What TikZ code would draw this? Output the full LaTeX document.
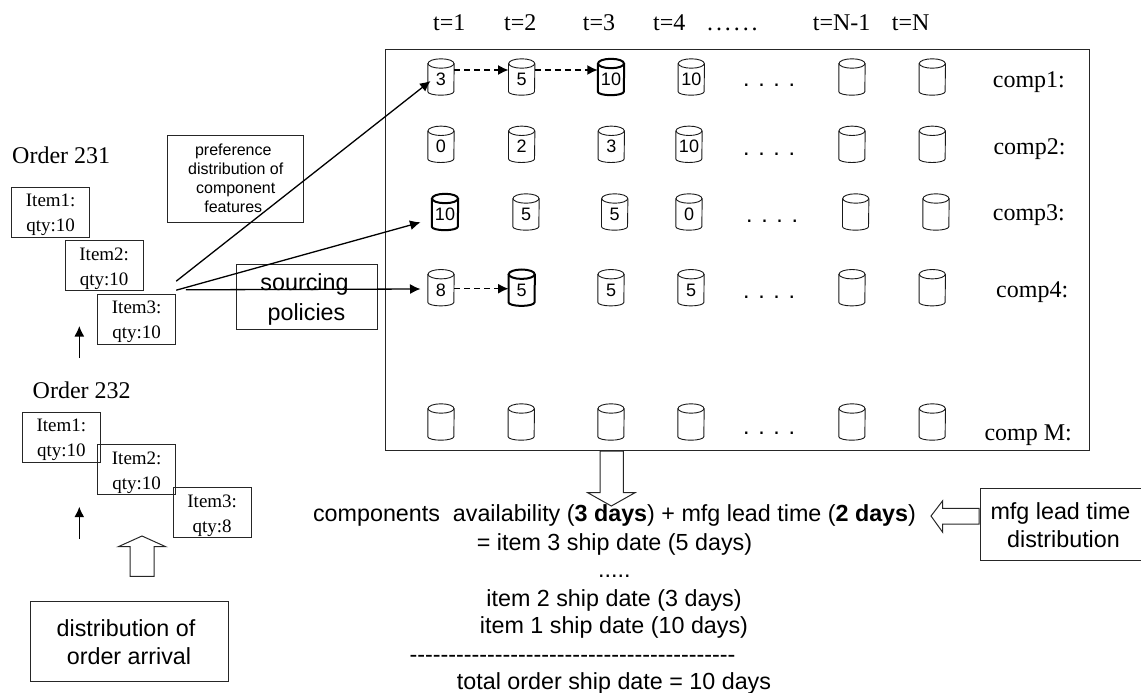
\documentclass[tikz,border=0pt]{standalone}
\usepackage{fontspec}
\newfontfamily\arialf{Liberation Sans}
\newfontfamily\timesf{Liberation Serif}
\usetikzlibrary{arrows.meta}
\newcommand{\topst}[1]{\rule{0pt}{#1pt}}
\newcommand{\botst}{\rule[-5pt]{0pt}{5pt}}
\tikzset{
  lin/.style={line width=1pt,draw=black!85},
  cylnode/.style={rectangle,inner sep=0pt,minimum height=36pt,minimum width=26pt,text height=17pt,text depth=0pt,font=\arialf\fontsize{18}{20}\selectfont},
  cyln/.style={line width=0.9pt,draw=black!90},
  cylb/.style={line width=2pt,draw=black},
  itembox/.style={lin,draw,rectangle,minimum width=78pt,minimum height=50pt,inner sep=0pt,align=center,font=\timesf\fontsize{19}{25}\selectfont},
  sanstxt/.style={inner sep=0pt,anchor=base,font=\arialf\fontsize{23.3}{28}\selectfont},
  dottxt/.style={inner sep=0pt,anchor=base west,font=\arialf\fontsize{23.3}{28}\selectfont},
  sertxt/.style={inner sep=0pt,anchor=base west,font=\timesf\fontsize{24}{28}\selectfont},
  sansbox/.style={lin,draw,rectangle,inner sep=0pt,align=center,font=\arialf\fontsize{23.3}{28}\selectfont},
  arr/.style={line width=1.3pt,-{Latex[length=10.5pt,width=10pt]}},
  dasharr/.style={arr,dash pattern=on 6pt off 4pt},
  blockarr/.style={line width=1pt,draw=black!85},
}
\begin{document}
\begin{tikzpicture}[x=1pt,y=-1pt]
\useasboundingbox (0,0) rectangle (1141,693);
% main frame
\node[lin,draw,rectangle,inner sep=0pt,minimum width=704pt,minimum height=401.5pt] (frame) at (737,250) {};
% headers
\node[sertxt] (t1) at (433,30.7) {t=1};
\node[sertxt] (t2) at (504,30.7) {t=2};
\node[sertxt] (t3) at (582.7,30.7) {t=3};
\node[sertxt] (t4) at (653,30.7) {t=4};
\node[sertxt] (tdots) at (707,30.7) {.\kern2.9pt.\kern2.9pt.\kern2.9pt.\kern2.9pt.\kern2.9pt.};
\node[sertxt] (tn1) at (812.7,30.7) {t=N-1};
\node[sertxt] (tn) at (891.7,30.7) {t=N};
% component labels
\node[sertxt] (comp1) at (992.7,87.3) {comp1:};
\node[sertxt] (comp2) at (993.3,154) {comp2:};
\node[sertxt] (comp3) at (992.7,220) {comp3:};
\node[sertxt] (comp4) at (996,297.3) {comp4:};
\node[sertxt] (compm) at (984.3,440) {comp M:};
% cylinders
\foreach \n/\x/\y/\l/\s in {
 c11/441/77/3/cyln,c12/521.7/77/5/cyln,c13/611/77/10/cylb,c14/691.3/77/10/cyln,c15/852/77//cyln,c16/932.3/77//cyln,
 c21/441/144.3/0/cyln,c22/521.7/144.3/2/cyln,c23/611.3/144.3/3/cyln,c24/689/144.3/10/cyln,c25/852/144.3//cyln,c26/932.3/144.3//cyln,
 c31/445/212/10/cylb,c32/526/212/5/cyln,c33/614.7/212/5/cyln,c34/689/212/0/cyln,c35/855.7/212//cyln,c36/936/212//cyln,
 c41/441/287.7/8/cyln,c42/521.7/287.7/5/cylb,c43/611/287.7/5/cyln,c44/691/287.7/5/cyln,c45/852/287.7//cyln,c46/932.3/287.7//cyln,
 c51/441/422//cyln,c52/521.3/422//cyln,c53/611/422//cyln,c54/691/422//cyln,c55/852/422//cyln,c56/932.3/422//cyln}
 {\node[cylnode] (\n) at (\x,\y) {\l};
  \draw[\s] ([yshift=-4.7pt]\n.north) ellipse [x radius=13pt,y radius=4.7pt];
  \draw[\s] ([yshift=-4.7pt]\n.north west) -- ([yshift=3.5pt]\n.south west) arc[start angle=180,end angle=360,x radius=13pt,y radius=3.5pt] -- ([yshift=-4.7pt]\n.north east);}
% dots
\node[dottxt] (d1) at (743,87) {. . . .};
\node[dottxt] (d2) at (743,155.7) {. . . .};
\node[dottxt] (d3) at (746,222) {. . . .};
\node[dottxt] (d4) at (743,298) {. . . .};
\node[dottxt] (d5) at (743,434) {. . . .};
% dashed arrows
\draw[dasharr] ([yshift=7pt]c11.east) -- ([yshift=7pt]c12.west);
\draw[dasharr,line width=1.6pt] ([yshift=7pt]c12.east) -- ([yshift=7pt]c13.west);
\draw[dasharr] ([yshift=-1pt]c41.east) -- ([yshift=-1pt]c42.west);
% order 231
\node[sertxt] (o231) at (12,163) {Order 231};
\node[itembox] (a1) at (50.7,212) {\topst{18}Item1:\\qty:10};
\node[itembox] (a2) at (104.2,265.7) {\topst{18}Item2:\\qty:10};
\node[itembox] (a3) at (136.7,319) {\topst{18}Item3:\\qty:10};
\coordinate (up1s) at (79.3,358);
\coordinate (up1e) at (79.3,326);
\draw[arr] (up1s) -- (up1e);
% order 232
\node[sertxt] (o232) at (32.5,398) {Order 232};
\node[itembox] (b1) at (61.3,437.3) {\topst{18}Item1:\\qty:10};
\node[itembox] (b2) at (136.7,469.7) {\topst{18}Item2:\\qty:10};
\node[itembox] (b3) at (212.2,512.7) {\topst{18}Item3:\\qty:8};
\coordinate (up2s) at (79.3,539);
\coordinate (up2e) at (79.3,506.7);
\draw[arr] (up2s) -- (up2e);
% boxes
\node[sansbox,minimum width=136.5pt,minimum height=87.5pt,font=\arialf\fontsize{16}{19}\selectfont] (pref) at (235.7,178.75)
  {\topst{15}preference\hspace*{4.8pt}\\distribution of\hspace*{4.8pt}\\component\hspace*{4.8pt}\\features\hspace*{4.8pt}\botst};
\node[sansbox,minimum width=141pt,minimum height=64.5pt,font=\arialf\fontsize{23.3}{30}\selectfont] (src) at (306.5,296.75)
  {\topst{21.5}sourcing\hspace*{4pt}\\policies\botst};
\node[sansbox,minimum width=198pt,minimum height=80pt] (dist) at (129,641)
  {\topst{24.4}distribution of\hspace*{6pt}\\order arrival\botst};
\node[sansbox,minimum width=161pt,minimum height=72.4pt] (mfg) at (1060.5,524.5)
  {\topst{22}mfg lead time\\distribution\hspace*{-6pt}\botst};
% long arrows
\draw[arr] ([yshift=12.3pt]a3.north east) -- ([xshift=2.7pt,yshift=-4pt]c11.west);
\draw[arr] ([yshift=3.3pt]a3.north east) -- ([xshift=-11.3pt,yshift=-10.3pt]c31.west);
\draw[arr] ([xshift=9.7pt,yshift=3.7pt]a3.north east) -- ([xshift=-7.3pt,yshift=-1.3pt]c41.west);
% block arrows
\draw[blockarr] (130,576.3) -- (130,546.7) -- (118.3,546.7) -- (142,536) -- (165.7,546.7) -- (154,546.7) -- (154,576.3) -- cycle;
\draw[blockarr] (600,451) -- (600,492.7) -- (587.7,492.7) -- (611.3,506) -- (635,492.7) -- (623.3,492.7) -- (623.3,451) -- cycle;
\draw[blockarr] (979,508.3) -- (942.7,508.3) -- (942.7,500.7) -- (931,516) -- (942.7,532.3) -- (942.7,524) -- (979,524) -- cycle;
% result text
\node[sanstxt] (r1) at (614.5,521.7) {components\ \ availability (\textbf{3 days}) + mfg lead time (\textbf{2 days})};
\node[sanstxt] (r2) at (614.5,550) {= item 3 ship date (5 days)};
\node[sanstxt] (r3) at (614.3,577) {.....};
\node[sanstxt] (r4) at (614,606) {item 2 ship date (3 days)};
\node[sanstxt] (r5) at (614,633.7) {item 1 ship date (10 days)};
\node[sanstxt] (r6) at (572.5,662) {------------------------------------------};
\node[sanstxt] (r7) at (614,689) {total order ship date = 10 days};
\end{tikzpicture}
\end{document}
